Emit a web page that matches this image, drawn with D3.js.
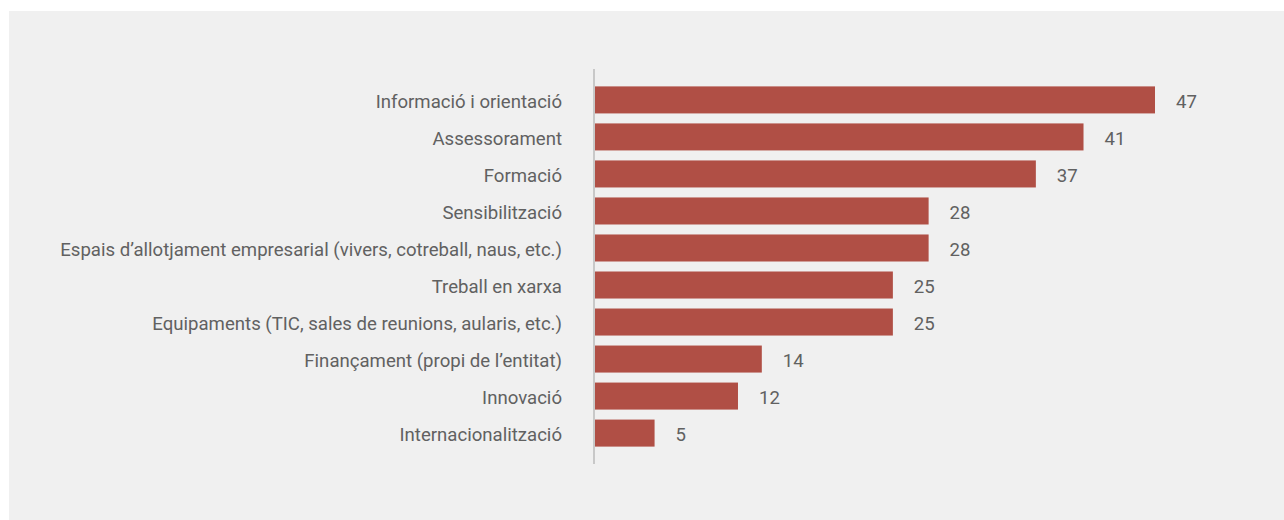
<!doctype html>
<html>
  <head>
    <script src="https://cdn.jsdelivr.net/npm/d3@7/dist/d3.min.js"></script>
    <style>
      body, html {
        margin: 0;
        background: #fff;
      }
      svg {
        position: absolute;
        left: 0;
        top: 0;
      }
      text {
        font-family: Roboto, sans-serif;
        font-size: 18.6px;
        fill: #616161;
      }
      rect.bar {
        fill: #b04f45;
      }
    </style>
  </head>
  <body>
    <svg width="1284" height="520"></svg>
    <script>

      var categories = [
        "Informació i orientació",
        "Assessorament",
        "Formació",
        "Sensibilització",
        "Espais d\u2019allotjament empresarial (vivers, cotreball, naus, etc.)",
        "Treball en xarxa",
        "Equipaments (TIC, sales de reunions, aularis, etc.)",
        "Finançament (propi de l\u2019entitat)",
        "Innovació",
        "Internacionalització"
      ];
      var values = [47, 41, 37, 28, 28, 25, 25, 14, 12, 5];

      var svg = d3.select("svg");

      // gray panel
      svg.append("rect")
        .attr("x", 9).attr("y", 11)
        .attr("width", 1275).attr("height", 509)
        .attr("fill", "#f0f0f0");

      var x0 = 595;
      var x = d3.scaleLinear().domain([0, 47]).range([x0, 1155]);
      var y = d3.scaleBand()
        .domain(categories)
        .range([69, 464])
        .paddingInner(0.27)
        .paddingOuter(0.47);

      svg.selectAll("rect.bar")
        .data(values)
        .enter().append("rect")
        .attr("class", "bar")
        .attr("x", x(0))
        .attr("y", (d, i) => y(categories[i]))
        .attr("width", d => x(d) - x(0))
        .attr("height", y.bandwidth());

      // value labels
      svg.selectAll("text.val")
        .data(values)
        .enter().append("text")
        .attr("class", "val")
        .attr("x", d => x(d) + 21)
        .attr("y", (d, i) => y(categories[i]) + y.bandwidth() / 2)
        .attr("dy", "0.42em")
        .text(d => d);

      // category labels
      svg.selectAll("text.cat")
        .data(categories)
        .enter().append("text")
        .attr("class", "cat")
        .attr("x", 562)
        .attr("y", d => y(d) + y.bandwidth() / 2)
        .attr("dy", "0.42em")
        .attr("text-anchor", "end")
        .text(d => d);

      // axis line
      svg.append("line")
        .attr("x1", 594).attr("x2", 594)
        .attr("y1", 69).attr("y2", 464)
        .attr("stroke", "#c8c8c8")
        .attr("stroke-width", 2);
    </script>
  </body>
</html>
